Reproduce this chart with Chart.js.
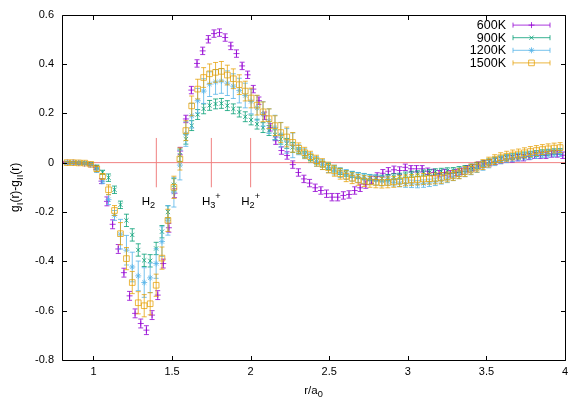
<!DOCTYPE html>
<html><head><meta charset="utf-8">
<script src="https://cdn.jsdelivr.net/npm/chart.js@4.4.0/dist/chart.umd.min.js"></script>
<style>html,body{margin:0;padding:0;background:#fff}#wrap{width:581px;height:407px;position:relative}</style>
</head><body><div id="wrap"><canvas id="c" width="581" height="407"></canvas></div>
<script>
// ---------------- data ----------------
const seriesLabels = ['600K', '900K', '1200K', '1500K'];

// 600K grid
const r600 = [0.800,0.836,0.872,0.907,0.943,0.979,1.015,1.051,1.086,1.122,
1.158,1.194,1.230,1.265,1.301,1.337,1.373,1.409,1.444,1.480,
1.516,1.552,1.588,1.623,1.659,1.695,1.731,1.767,1.802,1.838,
1.874,1.910,1.946,1.981,2.017,2.053,2.089,2.125,2.160,2.196,
2.232,2.268,2.304,2.339,2.375,2.411,2.447,2.483,2.518,2.554,
2.590,2.626,2.662,2.697,2.733,2.769,2.805,2.841,2.876,2.912,
2.948,2.984,3.020,3.055,3.091,3.127,3.163,3.199,3.234,3.270,
3.306,3.342,3.378,3.413,3.449,3.485,3.521,3.557,3.592,3.628,
3.664,3.700,3.736,3.771,3.807,3.843,3.879,3.915,3.950,3.986];
const g600 = [0.000,0.000,0.000,-0.002,-0.004,-0.008,-0.020,-0.075,-0.157,-0.250,
-0.350,-0.446,-0.540,-0.611,-0.652,-0.679,-0.618,-0.537,-0.409,-0.264,
-0.124,0.047,0.177,0.294,0.402,0.453,0.500,0.523,0.527,0.507,
0.473,0.442,0.392,0.356,0.298,0.251,0.190,0.143,0.089,0.049,
0.029,-0.008,-0.040,-0.066,-0.083,-0.102,-0.113,-0.126,-0.140,-0.140,
-0.133,-0.129,-0.113,-0.102,-0.089,-0.070,-0.056,-0.043,-0.035,-0.029,
-0.032,-0.019,-0.025,-0.025,-0.025,-0.035,-0.040,-0.045,-0.040,-0.045,
-0.040,-0.035,-0.025,-0.020,-0.010,-0.005,0.000,0.005,0.010,0.015,
0.015,0.020,0.020,0.025,0.030,0.030,0.030,0.035,0.035,0.030];
const e600 = [0.004,0.004,0.004,0.004,0.004,0.005,0.007,0.010,0.018,0.018,
0.018,0.018,0.018,0.018,0.018,0.018,0.018,0.018,0.018,0.018,
0.018,0.015,0.015,0.015,0.015,0.015,0.015,0.015,0.015,0.015,
0.015,0.015,0.015,0.015,0.015,0.015,0.015,0.015,0.015,0.015,
0.015,0.015,0.015,0.015,0.015,0.015,0.015,0.015,0.015,0.015,
0.015,0.015,0.015,0.015,0.015,0.015,0.015,0.015,0.015,0.015,
0.015,0.013,0.013,0.013,0.013,0.013,0.013,0.013,0.013,0.013,
0.013,0.013,0.013,0.013,0.013,0.013,0.013,0.013,0.013,0.013,
0.013,0.013,0.013,0.013,0.013,0.013,0.013,0.013,0.013,0.013];

// 900K / 1200K / 1500K grid
const rHi = [0.832,0.869,0.907,0.945,0.983,1.021,1.058,1.096,1.134,1.172,
1.210,1.247,1.285,1.323,1.361,1.399,1.436,1.474,1.512,1.550,
1.588,1.625,1.663,1.701,1.739,1.777,1.814,1.852,1.890,1.928,
1.966,2.003,2.041,2.079,2.117,2.155,2.192,2.230,2.268,2.306,
2.344,2.381,2.419,2.457,2.495,2.533,2.570,2.608,2.646,2.684,
2.722,2.759,2.797,2.835,2.873,2.911,2.948,2.986,3.024,3.062,
3.100,3.137,3.175,3.213,3.251,3.289,3.326,3.364,3.402,3.440,
3.478,3.515,3.553,3.591,3.629,3.667,3.704,3.742,3.780,3.818,
3.856,3.893,3.931,3.969];
const g900 = [0.000,0.000,-0.001,-0.002,-0.006,-0.018,-0.039,-0.061,-0.110,-0.171,
-0.234,-0.293,-0.354,-0.396,-0.398,-0.348,-0.280,-0.200,-0.090,0.030,
0.095,0.150,0.195,0.218,0.232,0.238,0.240,0.231,0.218,0.205,
0.186,0.173,0.156,0.142,0.130,0.113,0.095,0.078,0.062,0.048,
0.034,0.020,0.006,-0.006,-0.016,-0.026,-0.036,-0.043,-0.048,-0.052,
-0.056,-0.060,-0.062,-0.063,-0.060,-0.057,-0.055,-0.050,-0.047,-0.045,
-0.042,-0.040,-0.037,-0.035,-0.033,-0.032,-0.028,-0.024,-0.018,-0.012,
-0.005,0.003,0.010,0.015,0.020,0.024,0.027,0.031,0.034,0.037,
0.040,0.042,0.044,0.045];
const e900 = [0.004,0.004,0.004,0.004,0.004,0.008,0.008,0.015,0.015,0.015,
0.025,0.025,0.025,0.025,0.025,0.025,0.025,0.025,0.025,0.025,
0.020,0.020,0.020,0.020,0.020,0.020,0.020,0.020,0.020,0.020,
0.020,0.020,0.020,0.020,0.020,0.020,0.020,0.020,0.020,0.012,
0.012,0.012,0.012,0.012,0.012,0.012,0.012,0.012,0.012,0.012,
0.012,0.012,0.012,0.012,0.012,0.012,0.012,0.012,0.012,0.012,
0.012,0.012,0.012,0.012,0.012,0.012,0.012,0.012,0.012,0.012,
0.012,0.012,0.012,0.012,0.012,0.012,0.012,0.012,0.012,0.012,
0.012,0.012,0.012,0.012];
const g1200 = [0.000,0.000,-0.001,-0.003,-0.008,-0.030,-0.075,-0.150,-0.214,-0.290,
-0.355,-0.423,-0.459,-0.486,-0.467,-0.409,-0.320,-0.234,-0.120,-0.010,
0.116,0.190,0.251,0.290,0.318,0.327,0.331,0.322,0.310,0.292,
0.272,0.248,0.222,0.197,0.168,0.142,0.113,0.088,0.070,0.052,
0.036,0.020,0.005,-0.008,-0.020,-0.030,-0.040,-0.048,-0.055,-0.060,
-0.064,-0.068,-0.071,-0.074,-0.077,-0.080,-0.083,-0.085,-0.086,-0.087,
-0.085,-0.082,-0.078,-0.072,-0.066,-0.058,-0.050,-0.042,-0.034,-0.025,
-0.016,-0.006,0.003,0.010,0.015,0.019,0.022,0.026,0.029,0.032,
0.035,0.037,0.039,0.040];
const e1200 = [0.004,0.004,0.004,0.004,0.004,0.010,0.010,0.020,0.020,0.060,
0.060,0.060,0.060,0.060,0.060,0.060,0.060,0.060,0.060,0.060,
0.050,0.050,0.050,0.050,0.050,0.050,0.050,0.050,0.050,0.050,
0.050,0.050,0.050,0.050,0.050,0.050,0.050,0.050,0.050,0.020,
0.020,0.020,0.020,0.020,0.020,0.020,0.020,0.020,0.020,0.020,
0.020,0.020,0.020,0.020,0.015,0.015,0.015,0.015,0.015,0.015,
0.015,0.015,0.015,0.015,0.015,0.015,0.015,0.015,0.015,0.015,
0.015,0.015,0.015,0.015,0.015,0.015,0.015,0.015,0.015,0.015,
0.015,0.015,0.015,0.015];
const g1500 = [0.000,0.000,-0.001,-0.002,-0.007,-0.025,-0.056,-0.110,-0.194,-0.288,
-0.389,-0.486,-0.568,-0.580,-0.572,-0.497,-0.387,-0.234,-0.100,0.015,
0.130,0.230,0.298,0.345,0.360,0.366,0.370,0.355,0.340,0.316,
0.290,0.262,0.233,0.206,0.178,0.150,0.122,0.104,0.082,0.058,
0.040,0.024,0.008,-0.006,-0.020,-0.033,-0.045,-0.055,-0.063,-0.070,
-0.075,-0.078,-0.080,-0.081,-0.080,-0.078,-0.075,-0.072,-0.070,-0.068,
-0.066,-0.065,-0.064,-0.062,-0.058,-0.052,-0.045,-0.036,-0.027,-0.018,
-0.008,0.002,0.012,0.020,0.026,0.031,0.035,0.040,0.045,0.049,
0.053,0.056,0.059,0.061];
const e1500 = [0.004,0.004,0.004,0.004,0.004,0.010,0.010,0.020,0.020,0.045,
0.045,0.045,0.045,0.045,0.045,0.045,0.045,0.045,0.045,0.045,
0.040,0.040,0.040,0.040,0.040,0.040,0.040,0.040,0.040,0.040,
0.040,0.040,0.040,0.040,0.040,0.040,0.040,0.040,0.040,0.022,
0.022,0.022,0.022,0.022,0.022,0.022,0.022,0.022,0.022,0.022,
0.022,0.022,0.022,0.022,0.022,0.022,0.022,0.022,0.022,0.022,
0.022,0.022,0.022,0.022,0.020,0.020,0.020,0.020,0.020,0.020,
0.020,0.020,0.020,0.020,0.020,0.020,0.020,0.020,0.020,0.020,
0.020,0.020,0.020,0.020];

const xTicks = [1, 1.5, 2, 2.5, 3, 3.5, 4];
const yTicks = [-0.8, -0.6, -0.4, -0.2, 0, 0.2, 0.4, 0.6];
const xRange = [0.8, 4];
const yRange = [-0.8, 0.6];

// reference lines and species markers
const refY = 0;
const markerX = [1.4, 1.75, 2.0];
const markerHalfLen = 0.1;
const speciesX = [1.35, 1.75, 2.0];
const speciesY = -0.17;
const speciesLabels = [
  [{t:'H'},{t:'2',s:-1}],
  [{t:'H'},{t:'3',s:-1},{t:'+',s:1}],
  [{t:'H'},{t:'2',s:-1},{t:'+',s:1}]
];
const xTitle = [{t:'r/a'},{t:'0',s:-1}];
const yTitle = [{t:'g'},{t:'I',s:-1},{t:'(r)-g'},{t:'II',s:-1},{t:'(r)'}];

// ---------------- styles ----------------
const FONT = '"Liberation Sans", Arial, Helvetica, sans-serif';
const colors = ['rgba(148,0,211,0.78)', 'rgba(0,158,115,0.78)', 'rgba(86,180,233,0.8)', 'rgba(230,159,0,0.75)'];
const styles = ['cross', 'crossRot', 'star', 'rect'];
const radii = [3, 3, 3, 4];

const pts = (xs, ys) => xs.map((x, i) => ({x: x, y: ys[i]}));
const seriesX = [r600, rHi, rHi, rHi];
const seriesY = [g600, g900, g1200, g1500];
const seriesE = [e600, e900, e1200, e1500];

const datasets = seriesLabels.map((lab, n) => ({
  label: lab,
  data: pts(seriesX[n], seriesY[n]),
  errors: seriesE[n],
  borderColor: colors[n],
  backgroundColor: 'rgba(0,0,0,0)',
  pointStyle: styles[n],
  pointRadius: radii[n],
  pointHoverRadius: radii[n],
  pointBorderWidth: 1,
  showLine: false,
  order: 4 - n
}));

function drawRich(ctx, parts, x, y, align, size) {
  const widths = parts.map(p => {
    ctx.font = (p.s ? size * 0.8 : size) + 'px ' + FONT;
    return ctx.measureText(p.t).width;
  });
  const total = widths.reduce((a, b) => a + b, 0);
  let cx = align === 'center' ? x - total / 2 : (align === 'right' ? x - total : x);
  ctx.textAlign = 'left';
  ctx.textBaseline = 'alphabetic';
  parts.forEach((p, i) => {
    ctx.font = (p.s ? size * 0.8 : size) + 'px ' + FONT;
    const dy = p.s === -1 ? size * 0.3 : (p.s === 1 ? -size * 0.45 : 0);
    ctx.fillText(p.t, cx, y + dy);
    cx += widths[i];
  });
}

function drawMarker(ctx, style, r, x, y) {
  ctx.beginPath();
  if (style === 'cross' || style === 'star') {
    ctx.moveTo(x - r, y); ctx.lineTo(x + r, y);
    ctx.moveTo(x, y - r); ctx.lineTo(x, y + r);
  }
  if (style === 'crossRot' || style === 'star') {
    const d = r * Math.SQRT1_2;
    ctx.moveTo(x - d, y - d); ctx.lineTo(x + d, y + d);
    ctx.moveTo(x - d, y + d); ctx.lineTo(x + d, y - d);
  }
  if (style === 'rect') {
    const s = r * Math.SQRT1_2;
    ctx.rect(x - s, y - s, 2 * s, 2 * s);
  }
  ctx.stroke();
}

const decor = {
  id: 'decor',
  beforeDatasetsDraw(chart) {
    const {ctx, chartArea: a, scales: {x, y}} = chart;
    ctx.save();
    ctx.strokeStyle = '#f08080';
    ctx.lineWidth = 1;
    const y0 = y.getPixelForValue(refY);
    ctx.beginPath();
    ctx.moveTo(a.left, y0); ctx.lineTo(a.right, y0);
    markerX.forEach(v => {
      const px = x.getPixelForValue(v);
      ctx.moveTo(px, y.getPixelForValue(refY + markerHalfLen));
      ctx.lineTo(px, y.getPixelForValue(refY - markerHalfLen));
    });
    ctx.stroke();
    ctx.fillStyle = '#000';
    speciesLabels.forEach((parts, i) => {
      drawRich(ctx, parts, x.getPixelForValue(speciesX[i]), y.getPixelForValue(speciesY), 'center', 11.5);
    });
    ctx.restore();
  },
  beforeDatasetDraw(chart, args) {
    const {ctx, chartArea: a, scales: {y}} = chart;
    const ds = chart.data.datasets[args.index];
    const meta = args.meta;
    ctx.save();
    ctx.beginPath();
    ctx.rect(a.left, a.top, a.right - a.left, a.bottom - a.top);
    ctx.clip();
    ctx.strokeStyle = ds.borderColor;
    ctx.lineWidth = 1;
    ctx.beginPath();
    meta.data.forEach((el, j) => {
      const v = ds.data[j].y, e = ds.errors[j];
      const yt = y.getPixelForValue(v + e), yb = y.getPixelForValue(v - e);
      const px = el.x;
      ctx.moveTo(px, yt); ctx.lineTo(px, yb);
      ctx.moveTo(px - 2.5, yt); ctx.lineTo(px + 2.5, yt);
      ctx.moveTo(px - 2.5, yb); ctx.lineTo(px + 2.5, yb);
    });
    ctx.stroke();
    ctx.restore();
  },
  afterDraw(chart) {
    const {ctx, chartArea: a, scales: {x, y}} = chart;
    ctx.save();
    // frame and inward ticks
    ctx.strokeStyle = '#000';
    ctx.lineWidth = 1;
    const L = Math.round(a.left) + 0.5, R = Math.round(a.right) + 0.5;
    const T = Math.round(a.top) + 0.5, B = Math.round(a.bottom) + 0.5;
    ctx.beginPath();
    ctx.rect(L, T, R - L, B - T);
    const tk = 4.5;
    xTicks.forEach(v => {
      const px = Math.round(x.getPixelForValue(v)) + 0.5;
      ctx.moveTo(px, B); ctx.lineTo(px, B - tk);
      ctx.moveTo(px, T); ctx.lineTo(px, T + tk);
    });
    yTicks.forEach(v => {
      const py = Math.round(y.getPixelForValue(v)) + 0.5;
      ctx.moveTo(L, py); ctx.lineTo(L + tk, py);
      ctx.moveTo(R, py); ctx.lineTo(R - tk, py);
    });
    ctx.stroke();
    // axis titles
    ctx.fillStyle = '#000';
    drawRich(ctx, xTitle, (a.left + a.right) / 2, 394, 'center', 11.5);
    ctx.save();
    ctx.translate(19, (a.top + a.bottom) / 2);
    ctx.rotate(-Math.PI / 2);
    drawRich(ctx, yTitle, 0, 0, 'center', 12);
    ctx.restore();
    // key
    seriesLabels.forEach((lab, n) => {
      const yy = a.top + 10.5 + n * 12.6;
      ctx.fillStyle = '#000';
      ctx.font = '12.5px ' + FONT;
      ctx.textAlign = 'right';
      ctx.textBaseline = 'middle';
      ctx.fillText(lab, a.right - 59, yy + 0.5);
      ctx.strokeStyle = colors[n];
      ctx.lineWidth = 1;
      const x1 = a.right - 52, x2 = a.right - 15;
      ctx.beginPath();
      ctx.moveTo(x1, yy); ctx.lineTo(x2, yy);
      ctx.moveTo(x1, yy - 2.5); ctx.lineTo(x1, yy + 2.5);
      ctx.moveTo(x2, yy - 2.5); ctx.lineTo(x2, yy + 2.5);
      ctx.stroke();
      drawMarker(ctx, styles[n], radii[n], (x1 + x2) / 2, yy);
    });
    ctx.restore();
  }
};

new Chart(document.getElementById('c'), {
  type: 'scatter',
  data: {datasets: datasets},
  options: {
    responsive: false,
    devicePixelRatio: 1,
    animation: false,
    events: [],
    layout: {padding: {left: 0, right: 16, top: 14, bottom: 0}},
    plugins: {legend: {display: false}, tooltip: {enabled: false}, title: {display: false}},
    scales: {
      x: {
        type: 'linear', min: xRange[0], max: xRange[1],
        grid: {display: false, drawTicks: false},
        border: {display: false},
        ticks: {color: '#000', font: {family: FONT, size: 11}, padding: 5, maxRotation: 0, autoSkip: false,
                callback: v => String(v)},
        afterBuildTicks: s => { s.ticks = xTicks.map(v => ({value: v})); },
        afterFit: s => { s.height = 47; }
      },
      y: {
        type: 'linear', min: yRange[0], max: yRange[1],
        grid: {display: false, drawTicks: false},
        border: {display: false},
        ticks: {color: '#000', font: {family: FONT, size: 11}, padding: 8, autoSkip: false,
                callback: v => String(Math.round(v * 10) / 10)},
        afterBuildTicks: s => { s.ticks = yTicks.map(v => ({value: v})); },
        afterFit: s => { s.width = 62; }
      }
    }
  },
  plugins: [decor]
});
</script>
</body></html>
